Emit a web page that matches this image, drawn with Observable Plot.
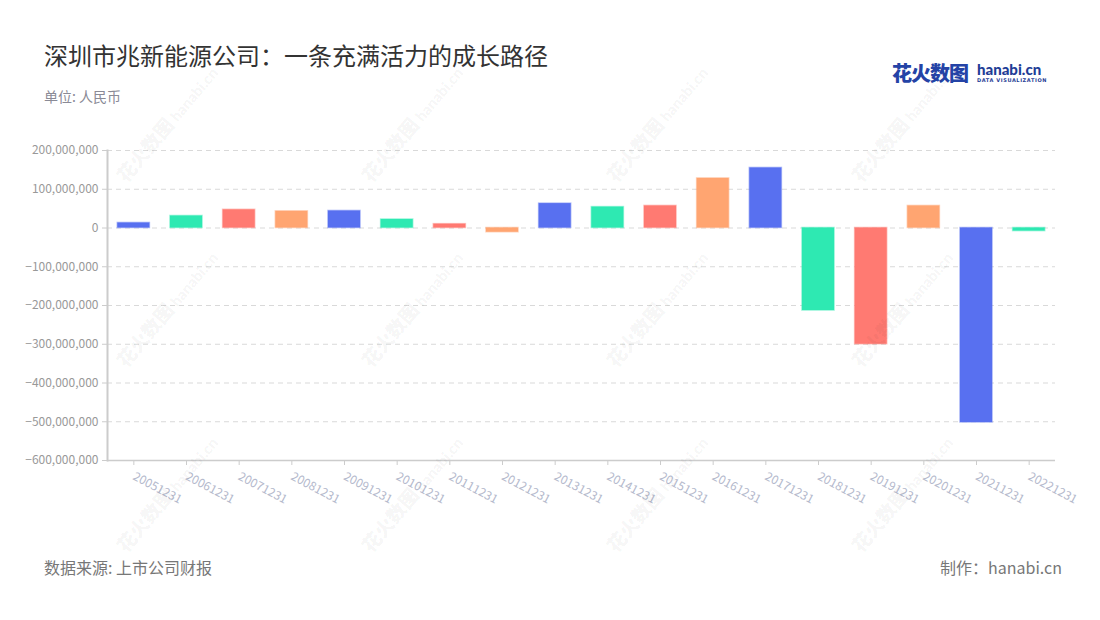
<!DOCTYPE html>
<html>
<head>
<meta charset="utf-8">
<script src="https://cdn.jsdelivr.net/npm/d3@7"></script>
<script src="https://cdn.jsdelivr.net/npm/@observablehq/plot@0.6"></script>
<style>
  html, body { margin: 0; padding: 0; background: #fff; }
  #wrap { position: relative; width: 1100px; height: 620px; overflow: hidden; font-family: "Noto Sans CJK SC", "Noto Sans", sans-serif; }
  .abs { position: absolute; white-space: nowrap; }
  #title { left: 44px; top: 37px; font-size: 24px; color: #333; }
  #sub { left: 44px; top: 86px; font-size: 14px; color: #8a8a96; }
  #src { left: 44px; top: 555px; font-size: 16px; color: #777; }
  #made { right: 38px; top: 555px; font-size: 16px; color: #777; }
  #logo1 { left: 892px; top: 58px; font-size: 20px; font-weight: 900; color: #2443a6; letter-spacing: -1px; }
  #logo2 { left: 977px; top: 60px; font-size: 15px; font-weight: 900; color: #1f3d96; font-family: "Lato", sans-serif; }
  #logo3 { left: 977px; top: 77px; font-size: 5px; font-weight: 700; color: #1f3d96; letter-spacing: 0.6px; font-family: "DejaVu Sans", sans-serif; }
  .wm { position: absolute; transform-origin: left bottom; transform: rotate(-50deg); color: rgba(0,0,0,0.05); font-weight: 900; white-space: nowrap; pointer-events: none; }
  .wm b { font-size: 19px; }
  .wm i { font-style: normal; font-size: 15px; font-family: "Lato", sans-serif; margin-left: 4px; }
  #chart { position: absolute; left: 0; top: 0; }
</style>
</head>
<body>
<div id="wrap">
  <div id="chart"></div>
  <div class="abs" id="title">深圳市兆新能源公司：一条充满活力的成长路径</div>
  <div class="abs" id="sub">单位: 人民币</div>
  <div class="abs" id="logo1">花火数图</div>
  <div class="abs" id="logo2">hanabi.cn</div>
  <div class="abs" id="logo3">DATA VISUALIZATION</div>
  <div class="abs" id="src">数据来源: 上市公司财报</div>
  <div class="abs" id="made">制作：hanabi.cn</div>
</div>
<script>
const dates = ["20051231","20061231","20071231","20081231","20091231","20101231","20111231","20121231","20131231","20141231","20151231","20161231","20171231","20181231","20191231","20201231","20211231","20221231"];
const values = [13e6, 31e6, 47e6, 43e6, 44e6, 22e6, 10e6, -11e6, 63e6, 54e6, 57e6, 128e6, 155e6, -213e6, -300e6, 57e6, -502e6, -8e6];
const palette = ["#5870F0", "#2EE9B2", "#FF7A72", "#FFA571"];
const yTicks = [200e6, 100e6, 0, -100e6, -200e6, -300e6, -400e6, -500e6, -600e6];

const rows = dates.map((d, i) => ({date: d, value: values[i], color: palette[i % palette.length]}));

const chart = Plot.plot({
  width: 1100,
  height: 620,
  marginLeft: 107,
  marginRight: 45,
  marginTop: 150,
  marginBottom: 160,
  style: {fontFamily: "'Noto Sans CJK SC', 'Noto Sans', sans-serif", fontSize: "12px", background: "transparent"},
  x: {domain: dates, paddingInner: 0.39, paddingOuter: 0.195, round: false, label: null},
  y: {domain: [-600e6, 200e6], ticks: yTicks, label: null, tickFormat: d3.format(",")},
  marks: [
    Plot.gridY(yTicks, {stroke: "#d9d9d9", strokeOpacity: 1, strokeDasharray: "5,4"}),
    Plot.barY(rows, {x: "date", y: "value", fill: "color", stroke: "color", strokeOpacity: 0.45, strokeWidth: 1.5}),
    Plot.ruleY([-600e6], {stroke: "#cccccc", strokeWidth: 1.5}),
    Plot.frame({anchor: "left", stroke: "#cccccc", strokeWidth: 2}),
    Plot.axisY(yTicks, {tickSize: 5, tickPadding: 4, stroke: "#cccccc", fill: "#999999", fontSize: 12, label: null, tickFormat: d3.format(",")}),
    Plot.axisX({tickSize: 5, tickPadding: 10, stroke: "#cccccc", fill: "#b4b9cc", fontSize: 12, tickRotate: 28, label: null})
  ]
});
document.getElementById("chart").appendChild(chart);

// faint watermarks
const wrap = document.getElementById("wrap");
const wmX = [130, 375, 620, 865];
const wmY = [160, 345, 530];
for (const y of wmY) for (const x of wmX) {
  const el = document.createElement("div");
  el.className = "wm";
  el.style.left = x + "px";
  el.style.top = y + "px";
  el.innerHTML = "<b>花火数图</b><i>hanabi.cn</i>";
  wrap.appendChild(el);
}
</script>
</body>
</html>
